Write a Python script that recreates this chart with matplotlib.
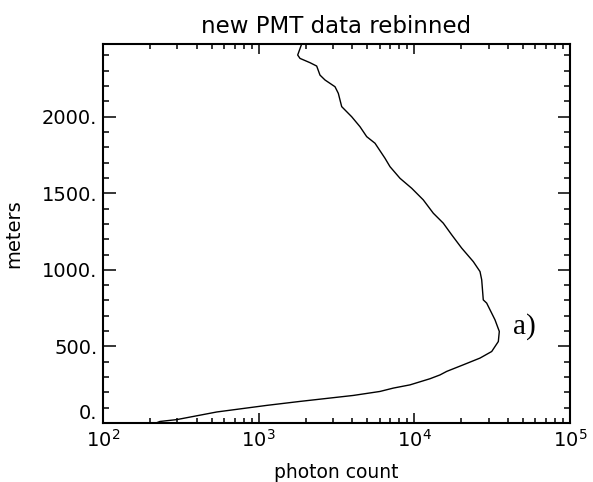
import math

import matplotlib
matplotlib.use('Agg')
import matplotlib.pyplot as plt
from matplotlib.ticker import LogLocator, MultipleLocator, FuncFormatter

# rebinned PMT profile: altitude (m) and photon count per bin
meters = [2475, 2403, 2381, 2353, 2331, 2272, 2240, 2196, 2153, 2066,
          2000, 1935, 1870, 1827, 1729, 1674, 1598, 1533, 1457, 1370,
          1305, 1229, 1142, 1054, 989, 935, 804, 783, 674, 598,
          532, 467, 424, 380, 337, 314, 289, 249, 228, 206,
          180, 141, 115, 72, 22, 10, 0]
photons = [1889, 1781, 1843, 2137, 2359, 2477, 2668, 3093, 3248, 3415,
           3959, 4476, 4943, 5589, 6478, 6977, 8090, 9616, 11416, 13240,
           15346, 17378, 20150, 23920, 26420, 27090, 27730, 29160, 32970, 35150,
           34640, 31410, 26420, 20630, 16140, 14620, 12600, 9376, 7330, 6012,
           4055, 1843, 1126, 538, 297, 232, 219]

x_range = (1e2, 1e5)
y_range = (0, 2475)

fig = plt.figure(figsize=(5.93, 4.82), dpi=100)
ax = fig.add_axes([0.1737, 0.1224, 0.7875, 0.7863])

ax.plot(photons, meters, color='black', linewidth=1.0)

ax.set_xscale('log')
ax.set_xlim(*x_range)
ax.set_ylim(*y_range)

ax.xaxis.set_major_locator(LogLocator(base=10, numticks=10))
ax.xaxis.set_minor_locator(LogLocator(base=10, subs=range(2, 10), numticks=20))
ax.xaxis.set_major_formatter(FuncFormatter(lambda v, p: r'$10^{%d}$' % round(math.log10(v))))
ax.yaxis.set_major_locator(MultipleLocator(500))
ax.yaxis.set_minor_locator(MultipleLocator(100))
ax.yaxis.set_major_formatter(FuncFormatter(lambda v, p: '%d.' % v))

ax.tick_params(which='both', direction='in', top=True, right=True,
               colors='black', labelsize=14, width=1.1)
ax.tick_params(axis='y', which='major', length=9, pad=4)
ax.tick_params(axis='y', which='minor', length=4.5)
ax.tick_params(axis='x', which='major', length=7, pad=4)
ax.tick_params(axis='x', which='minor', length=3.5)

for spine in ax.spines.values():
    spine.set_linewidth(1.5)
    spine.set_color('black')

# the "0." label sits on the axis line rather than centred on it
fig.canvas.draw()
for tick in ax.yaxis.get_major_ticks():
    if tick.get_loc() == 0:
        tick.label1.set_verticalalignment('bottom')

ax.set_title('new PMT data rebinned', fontsize=16.5, pad=8)
ax.set_xlabel('photon count', fontsize=13.5)
ax.set_ylabel('meters', fontsize=14)
ax.xaxis.set_label_coords(0.5, -0.105)
ax.yaxis.set_label_coords(-0.171, 0.5)

ax.text(43000, 630, 'a)', family='Liberation Serif', fontsize=21,
        ha='left', va='center')

fig.savefig('out.png', dpi=100)
